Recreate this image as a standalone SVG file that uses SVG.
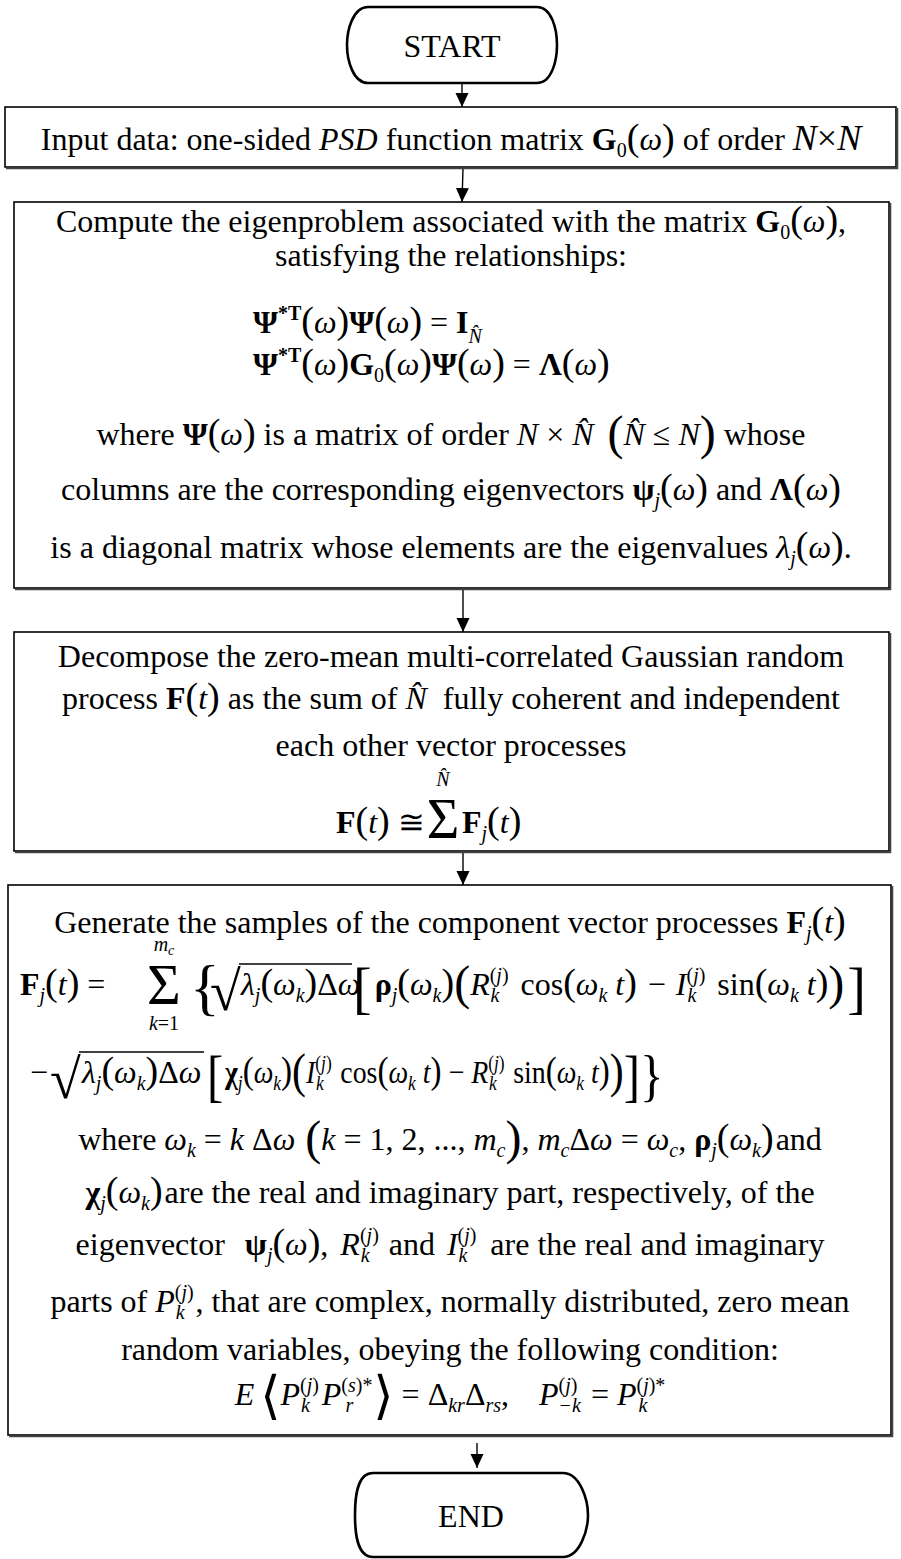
<svg xmlns="http://www.w3.org/2000/svg" width="901" height="1559" viewBox="0 0 901 1559">
<defs>
<style>
.t{font-family:"Liberation Serif","Times New Roman","DejaVu Serif",serif;font-size:32px;fill:#000}
.b{font-weight:bold}
.i{font-style:italic}
.s{font-size:20px}
.xs{font-size:14px}
.p{font-size:38px}
.P{font-size:48px}
.box{fill:#fff;stroke:#000;stroke-width:1.6}
.shd{stroke:#444;stroke-width:1.6;fill:none}
.term{fill:#fff;stroke:#000;stroke-width:2.6}
.con{stroke:#000;stroke-width:1.4;fill:none;marker-end:url(#ah)}
.bar{stroke:#000;stroke-width:1.6}
</style>
<marker id="ah" markerUnits="userSpaceOnUse" markerWidth="14" markerHeight="14" refX="14" refY="6.5" orient="auto">
<path d="M0,0 L14,6.5 L0,13 z" fill="#000"/>
</marker>
</defs>
<rect width="901" height="1559" fill="#fff"/>

<g id="connectors">
<line class="con" x1="462" y1="83" x2="462" y2="107"/>
<line class="con" x1="463" y1="168" x2="462" y2="202"/>
<line class="con" x1="463" y1="589" x2="463" y2="632"/>
<line class="con" x1="463" y1="852" x2="463" y2="885"/>
<line class="con" x1="477" y1="1443" x2="477" y2="1468"/>
</g>

<g id="start">
<path class="term" d="M368,7 H537 C552,7 557,30 557,45 C557,60 552,83 537,83 H368 C353,83 347,60 347,45 C347,30 353,7 368,7 Z"/>
<text class="t" x="452" y="57" text-anchor="middle">START</text>
</g>

<g id="input">
<rect class="box" x="5" y="107" width="891" height="60"/>
<path class="shd" d="M6,168.5 H897.5 V108"/>
<text class="t" x="451" y="150" text-anchor="middle">Input data: one-sided <tspan class="i">PSD</tspan> function matrix <tspan class="b">G</tspan><tspan class="s" dy="7">0</tspan><tspan class="p" dy="-7">(</tspan><tspan class="i">ω</tspan><tspan class="p">)</tspan> of order <tspan class="i" style="font-size:36px">N</tspan><tspan style="font-size:36px">×</tspan><tspan class="i" style="font-size:36px">N</tspan></text>
</g>

<g id="eigen">
<rect class="box" x="14" y="202" width="875" height="386"/>
<path class="shd" d="M15,589.5 H890.5 V203"/>
<text class="t" x="451" y="232" text-anchor="middle">Compute the eigenproblem associated with the matrix <tspan class="b">G</tspan><tspan class="s" dy="7">0</tspan><tspan class="p" dy="-7">(</tspan><tspan class="i">ω</tspan><tspan class="p">)</tspan>,</text>
<text class="t" x="451" y="266" text-anchor="middle">satisfying the relationships:</text>
<text class="t" x="253" y="333"><tspan class="b">Ψ</tspan><tspan class="b s" dy="-13">*T</tspan><tspan class="p" dy="13">(</tspan><tspan class="i">ω</tspan><tspan class="p">)</tspan><tspan class="b">Ψ</tspan><tspan class="p">(</tspan><tspan class="i">ω</tspan><tspan class="p">)</tspan> = <tspan class="b">I</tspan><tspan class="s i" dy="10">N&#x302;</tspan></text>
<text class="t" x="253" y="375"><tspan class="b">Ψ</tspan><tspan class="b s" dy="-13">*T</tspan><tspan class="p" dy="13">(</tspan><tspan class="i">ω</tspan><tspan class="p">)</tspan><tspan class="b">G</tspan><tspan class="s" dy="7">0</tspan><tspan class="p" dy="-7">(</tspan><tspan class="i">ω</tspan><tspan class="p">)</tspan><tspan class="b">Ψ</tspan><tspan class="p">(</tspan><tspan class="i">ω</tspan><tspan class="p">)</tspan> = <tspan class="b">Λ</tspan><tspan class="p">(</tspan><tspan class="i">ω</tspan><tspan class="p">)</tspan></text>
<text class="t" x="451" y="445" text-anchor="middle">where <tspan class="b">Ψ</tspan><tspan class="p">(</tspan><tspan class="i">ω</tspan><tspan class="p">)</tspan> is a matrix of order <tspan class="i">N</tspan> × <tspan class="i">N&#x302;</tspan><tspan class="P" dx="14" dy="4">(</tspan><tspan class="i" dy="-4">N&#x302;</tspan> ≤ <tspan class="i">N</tspan><tspan class="P" dy="4">)</tspan><tspan dy="-4"> whose</tspan></text>
<text class="t" x="451" y="500" text-anchor="middle">columns are the corresponding eigenvectors <tspan class="b">ψ</tspan><tspan class="s i" dy="7">j</tspan><tspan class="p" dy="-7">(</tspan><tspan class="i">ω</tspan><tspan class="p">)</tspan> and <tspan class="b">Λ</tspan><tspan class="p">(</tspan><tspan class="i">ω</tspan><tspan class="p">)</tspan></text>
<text class="t" x="451" y="558" text-anchor="middle">is a diagonal matrix whose elements are the eigenvalues <tspan class="i">λ</tspan><tspan class="s i" dy="7">j</tspan><tspan class="p" dy="-7">(</tspan><tspan class="i">ω</tspan><tspan class="p">)</tspan>.</text>
</g>

<g id="decompose">
<rect class="box" x="14" y="632" width="875" height="219"/>
<path class="shd" d="M15,852.5 H890.5 V633"/>
<text class="t" x="451" y="667" text-anchor="middle">Decompose the zero-mean multi-correlated Gaussian random</text>
<text class="t" x="451" y="709" text-anchor="middle">process <tspan class="b">F</tspan><tspan class="p">(</tspan><tspan class="i">t</tspan><tspan class="p">)</tspan> as the sum of <tspan class="i">N&#x302;</tspan><tspan dx="8"> fully coherent and independent</tspan></text>
<text class="t" x="451" y="756" text-anchor="middle">each other vector processes</text>
<text class="t s i" x="443" y="786" text-anchor="middle">N&#x302;</text>
<text class="t" x="336" y="833"><tspan class="b">F</tspan><tspan class="p">(</tspan><tspan class="i">t</tspan><tspan class="p">)</tspan> ≅</text>
<text class="t" x="443" y="838" text-anchor="middle" style="font-size:56px">Σ</text>
<text class="t" x="462" y="833"><tspan class="b">F</tspan><tspan class="s i" dy="7">j</tspan><tspan class="p" dy="-7">(</tspan><tspan class="i">t</tspan><tspan class="p">)</tspan></text>
</g>

<g id="generate">
<rect class="box" x="8" y="885" width="883" height="550"/>
<path class="shd" d="M9,1436.5 H892.5 V886"/>
<text class="t" x="450" y="933" text-anchor="middle">Generate the samples of the component vector processes <tspan class="b">F</tspan><tspan class="s i" dy="7">j</tspan><tspan class="p" dy="-7">(</tspan><tspan class="i">t</tspan><tspan class="p">)</tspan></text>

<text class="t" x="20" y="995"><tspan class="b">F</tspan><tspan class="s i" dy="7">j</tspan><tspan class="p" dy="-7">(</tspan><tspan class="i">t</tspan><tspan class="p">)</tspan> =</text>
<text class="t s i" x="164" y="951" text-anchor="middle">m<tspan class="xs" dy="4">c</tspan></text>
<text class="t" x="164" y="1004" text-anchor="middle" style="font-size:58px">Σ</text>
<text class="t s" x="164" y="1030" text-anchor="middle"><tspan class="i">k</tspan>=1</text>
<text class="t" x="190" y="1008" style="font-size:62px">{</text>
<text class="t" x="210" y="1010" style="font-size:56px">√</text>
<line class="bar" x1="239" y1="964" x2="352" y2="964"/>
<text class="t" x="241" y="995"><tspan class="i">λ</tspan><tspan class="s i" dy="7">j</tspan><tspan class="p" dy="-7">(</tspan><tspan class="i">ω</tspan><tspan class="s i" dy="7">k</tspan><tspan class="p" dy="-7">)</tspan>Δ<tspan class="i">ω</tspan></text>
<text class="t" x="353" y="1007"><tspan style="font-size:56px">[</tspan><tspan class="b" dx="3" dy="-12">ρ</tspan><tspan class="s i" dy="7">j</tspan><tspan class="p" dy="-7">(</tspan><tspan class="i">ω</tspan><tspan class="s i" dy="7">k</tspan><tspan class="p" dy="-7">)</tspan><tspan class="P" dy="4">(</tspan><tspan class="i" dy="-4">R</tspan><tspan class="s" dy="-13">(<tspan class="i">j</tspan>)</tspan><tspan class="s i" dx="-18" dy="20">k</tspan><tspan dx="13" dy="-7"> cos</tspan><tspan class="p">(</tspan><tspan class="i">ω</tspan><tspan class="s i" dy="7">k</tspan><tspan class="i" dy="-7"> t</tspan><tspan class="p">)</tspan><tspan dx="3"> − </tspan><tspan class="i" dx="2">I</tspan><tspan class="s" dy="-13">(<tspan class="i">j</tspan>)</tspan><tspan class="s i" dx="-18" dy="20">k</tspan><tspan dx="13" dy="-7"> sin</tspan><tspan class="p">(</tspan><tspan class="i">ω</tspan><tspan class="s i" dy="7">k</tspan><tspan class="i" dy="-7"> t</tspan><tspan class="p">)</tspan><tspan class="P" dy="4">)</tspan><tspan style="font-size:56px" dx="3" dy="8">]</tspan></text>

<text class="t" x="30" y="1083">−</text>
<text class="t" x="50" y="1098" style="font-size:56px">√</text>
<line class="bar" x1="79" y1="1052" x2="204" y2="1052"/>
<text class="t" x="82" y="1083"><tspan class="i">λ</tspan><tspan class="s i" dy="7">j</tspan><tspan class="p" dy="-7">(</tspan><tspan class="i">ω</tspan><tspan class="s i" dy="7">k</tspan><tspan class="p" dy="-7">)</tspan>Δ<tspan class="i">ω</tspan></text>
<text class="t" transform="translate(207,1095) scale(0.87,1)" x="0" y="0"><tspan style="font-size:56px">[</tspan><tspan class="b" dx="2" dy="-12">χ</tspan><tspan class="s i" dy="7">j</tspan><tspan class="p" dy="-7">(</tspan><tspan class="i">ω</tspan><tspan class="s i" dy="7">k</tspan><tspan class="p" dy="-7">)</tspan><tspan class="P" dy="4">(</tspan><tspan class="i" dy="-4">I</tspan><tspan class="s" dy="-13">(<tspan class="i">j</tspan>)</tspan><tspan class="s i" dx="-18" dy="20">k</tspan><tspan dx="11" dy="-7"> cos</tspan><tspan class="p">(</tspan><tspan class="i">ω</tspan><tspan class="s i" dy="7">k</tspan><tspan class="i" dy="-7"> t</tspan><tspan class="p">)</tspan> − <tspan class="i">R</tspan><tspan class="s" dy="-13">(<tspan class="i">j</tspan>)</tspan><tspan class="s i" dx="-18" dy="20">k</tspan><tspan dx="11" dy="-7"> sin</tspan><tspan class="p">(</tspan><tspan class="i">ω</tspan><tspan class="s i" dy="7">k</tspan><tspan class="i" dy="-7"> t</tspan><tspan class="p">)</tspan><tspan class="P" dy="4">)</tspan><tspan style="font-size:56px" dy="8">]</tspan><tspan style="font-size:56px">}</tspan></text>

<text class="t" x="450" y="1150" text-anchor="middle">where <tspan class="i">ω</tspan><tspan class="s i" dy="7">k</tspan><tspan dy="-7"> = </tspan><tspan class="i">k</tspan> Δ<tspan class="i">ω</tspan><tspan class="P" dx="10" dy="4">(</tspan><tspan class="i" dy="-4">k</tspan> = 1, 2, ..., <tspan class="i">m</tspan><tspan class="s i" dy="7">c</tspan><tspan class="P" dy="-3">)</tspan><tspan dy="-4">, </tspan><tspan class="i">m</tspan><tspan class="s i" dy="7">c</tspan><tspan dy="-7">Δ</tspan><tspan class="i">ω</tspan> = <tspan class="i">ω</tspan><tspan class="s i" dy="7">c</tspan><tspan dy="-7">, </tspan><tspan class="b">ρ</tspan><tspan class="s i" dy="7">j</tspan><tspan class="p" dy="-7">(</tspan><tspan class="i">ω</tspan><tspan class="s i" dy="7">k</tspan><tspan class="p" dy="-7">)</tspan><tspan dx="2">and</tspan></text>
<text class="t" x="450" y="1203" text-anchor="middle"><tspan class="b">χ</tspan><tspan class="s i" dy="7">j</tspan><tspan class="p" dy="-7">(</tspan><tspan class="i">ω</tspan><tspan class="s i" dy="7">k</tspan><tspan class="p" dy="-7">)</tspan><tspan dx="2">are the real and imaginary part, respectively, of the</tspan></text>
<text class="t" x="450" y="1255" text-anchor="middle">eigenvector <tspan class="b" dx="12">ψ</tspan><tspan class="s i" dy="7">j</tspan><tspan class="p" dy="-7">(</tspan><tspan class="i">ω</tspan><tspan class="p">)</tspan>, <tspan class="i" dx="4">R</tspan><tspan class="s" dy="-13">(<tspan class="i">j</tspan>)</tspan><tspan class="s i" dx="-18" dy="20">k</tspan><tspan dx="11" dy="-7"> and </tspan><tspan class="i" dx="4">I</tspan><tspan class="s" dy="-13">(<tspan class="i">j</tspan>)</tspan><tspan class="s i" dx="-18" dy="20">k</tspan><tspan dx="15" dy="-7"> are the real and imaginary</tspan></text>
<text class="t" x="450" y="1312" text-anchor="middle">parts of <tspan class="i">P</tspan><tspan class="s" dy="-13">(<tspan class="i">j</tspan>)</tspan><tspan class="s i" dx="-18" dy="20">k</tspan><tspan dx="11" dy="-7">, that are complex, normally distributed, zero mean</tspan></text>
<text class="t" x="450" y="1360" text-anchor="middle">random variables, obeying the following condition:</text>
<text class="t" x="450" y="1405" text-anchor="middle"><tspan class="i">E</tspan><tspan style="font-size:52px" dx="6" dy="8">⟨</tspan><tspan class="i" dy="-8">P</tspan><tspan class="s" dy="-13">(<tspan class="i">j</tspan>)</tspan><tspan class="s i" dx="-18" dy="20">k</tspan><tspan class="i" dx="12" dy="-7">P</tspan><tspan class="s" dy="-13">(<tspan class="i">s</tspan>)*</tspan><tspan class="s i" dx="-27" dy="20">r</tspan><tspan style="font-size:52px" dx="20" dy="1">⟩</tspan><tspan dy="-8"> = Δ</tspan><tspan class="s i" dy="7">kr</tspan><tspan dy="-7">Δ</tspan><tspan class="s i" dy="7">rs</tspan><tspan dy="-7">,</tspan><tspan class="i" dx="30">P</tspan><tspan class="s" dy="-13">(<tspan class="i">j</tspan>)</tspan><tspan class="s i" dx="-19" dy="20">−k</tspan><tspan dx="2" dy="-7"> = </tspan><tspan class="i">P</tspan><tspan class="s" dy="-13">(<tspan class="i">j</tspan>)*</tspan><tspan class="s i" dx="-27" dy="20">k</tspan></text>
</g>

<g id="end">
<path class="term" d="M373,1473 H563 C580,1473 588,1500 588,1515 C588,1530 580,1557 563,1557 H373 C356,1557 355,1530 355,1515 C355,1500 356,1473 373,1473 Z"/>
<text class="t" x="471" y="1527" text-anchor="middle">END</text>
</g>
</svg>
